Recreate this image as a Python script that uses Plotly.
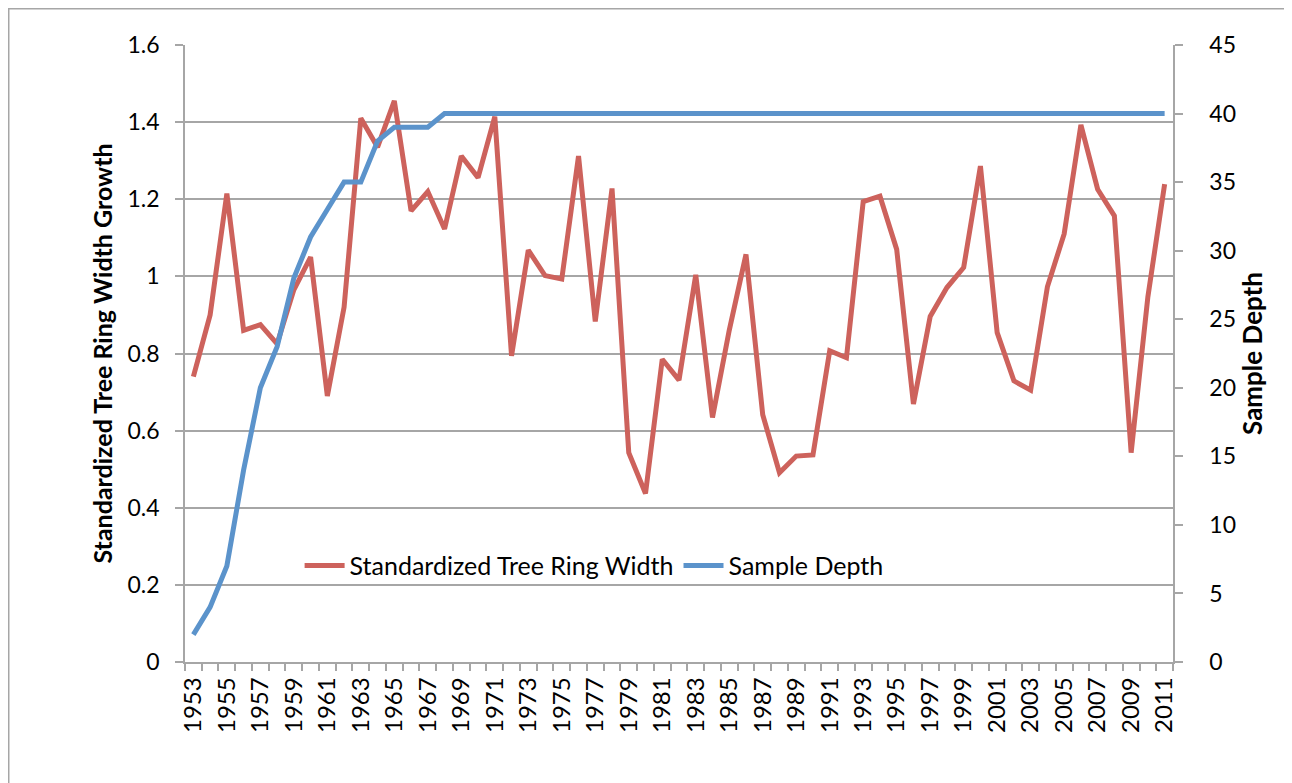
import plotly.graph_objects as go

years = list(range(1953, 2012))
ring_width = [0.74, 0.90, 1.215, 0.86, 0.875, 0.825, 0.965, 1.05, 0.69, 0.92,
              1.41, 1.335, 1.455, 1.17, 1.22, 1.123, 1.312, 1.256, 1.414, 0.794,
              1.068, 1.002, 0.993, 1.312, 0.883, 1.228, 0.543, 0.437, 0.785, 0.731,
              1.004, 0.634, 0.86, 1.057, 0.641, 0.491, 0.534, 0.537, 0.807, 0.789,
              1.194, 1.208, 1.070, 0.669, 0.896, 0.971, 1.023, 1.286, 0.854, 0.729,
              0.705, 0.973, 1.110, 1.393, 1.226, 1.157, 0.543, 0.947, 1.239]
sample_depth = [2, 4, 7, 14, 20, 23, 28, 31, 33, 35,
                35, 38, 39, 39, 39, 40, 40, 40, 40, 40,
                40, 40, 40, 40, 40, 40, 40, 40, 40, 40,
                40, 40, 40, 40, 40, 40, 40, 40, 40, 40,
                40, 40, 40, 40, 40, 40, 40, 40, 40, 40,
                40, 40, 40, 40, 40, 40, 40, 40, 40]
label_years = [y for y in years if y % 2 == 1]

RED = "#CD625C"
BLUE = "#5B93CB"
GRID = "#A6A6A6"
FONT = "Lato"

fig = go.Figure()
fig.add_trace(go.Scatter(x=years, y=ring_width, mode="lines",
                         name="Standardized Tree Ring Width",
                         line=dict(color=RED, width=5), yaxis="y"))
fig.add_trace(go.Scatter(x=years, y=sample_depth, mode="lines",
                         name="Sample Depth",
                         line=dict(color=BLUE, width=5), yaxis="y2"))

fig.update_layout(
    width=1284, height=775,
    margin=dict(l=177, r=119, t=37, b=121),
    paper_bgcolor="white", plot_bgcolor="white",
    font=dict(family=FONT, size=23, color="black"),
    xaxis=dict(
        range=[1952.5, 2011.5], tickvals=label_years,
        ticktext=[str(y) for y in label_years],
        tickangle=-90, ticks="", showgrid=False, zeroline=False,
        showline=True, linecolor=GRID, linewidth=1.5,
        ticklabelstandoff=4,
        minor=dict(tickvals=[y - 0.5 for y in years] + [2011.5],
                   ticks="outside", ticklen=7, tickcolor=GRID, tickwidth=1.5,
                   showgrid=False),
        tickfont=dict(size=24),
    ),
    yaxis=dict(
        range=[0, 1.6], dtick=0.2, tick0=0, showgrid=True, gridcolor=GRID,
        gridwidth=1.5, zeroline=False, showline=True, linecolor=GRID,
        linewidth=1.5, ticks="outside", ticklen=8, tickcolor=GRID, tickwidth=1.5,
        title=dict(text="<b>Standardized Tree Ring Width Growth</b>",
                   font=dict(size=25), standoff=8),
        ticklabelstandoff=11, tickfont=dict(size=23),
    ),
    yaxis2=dict(
        range=[0, 45], dtick=5, tick0=0, overlaying="y", side="right",
        showgrid=False, zeroline=False, showline=True, linecolor=GRID,
        linewidth=1.5, ticks="outside", ticklen=8, tickcolor=GRID, tickwidth=1.5,
        title=dict(text="<b>Sample Depth</b>", font=dict(size=26), standoff=8),
        ticklabelstandoff=22, tickfont=dict(size=23),
    ),
    legend=dict(orientation="h", x=0.116, y=0.156, xanchor="left",
                yanchor="middle", bgcolor="rgba(0,0,0,0)",
                font=dict(size=25), itemwidth=40),
    shapes=[dict(type="rect", xref="paper", yref="paper",
                 x0=-0.1784, x1=1.1184, y0=-0.25, y1=1.0588,
                 line=dict(color=GRID, width=1.5), layer="below")],
)

fig.write_html("out.html")
